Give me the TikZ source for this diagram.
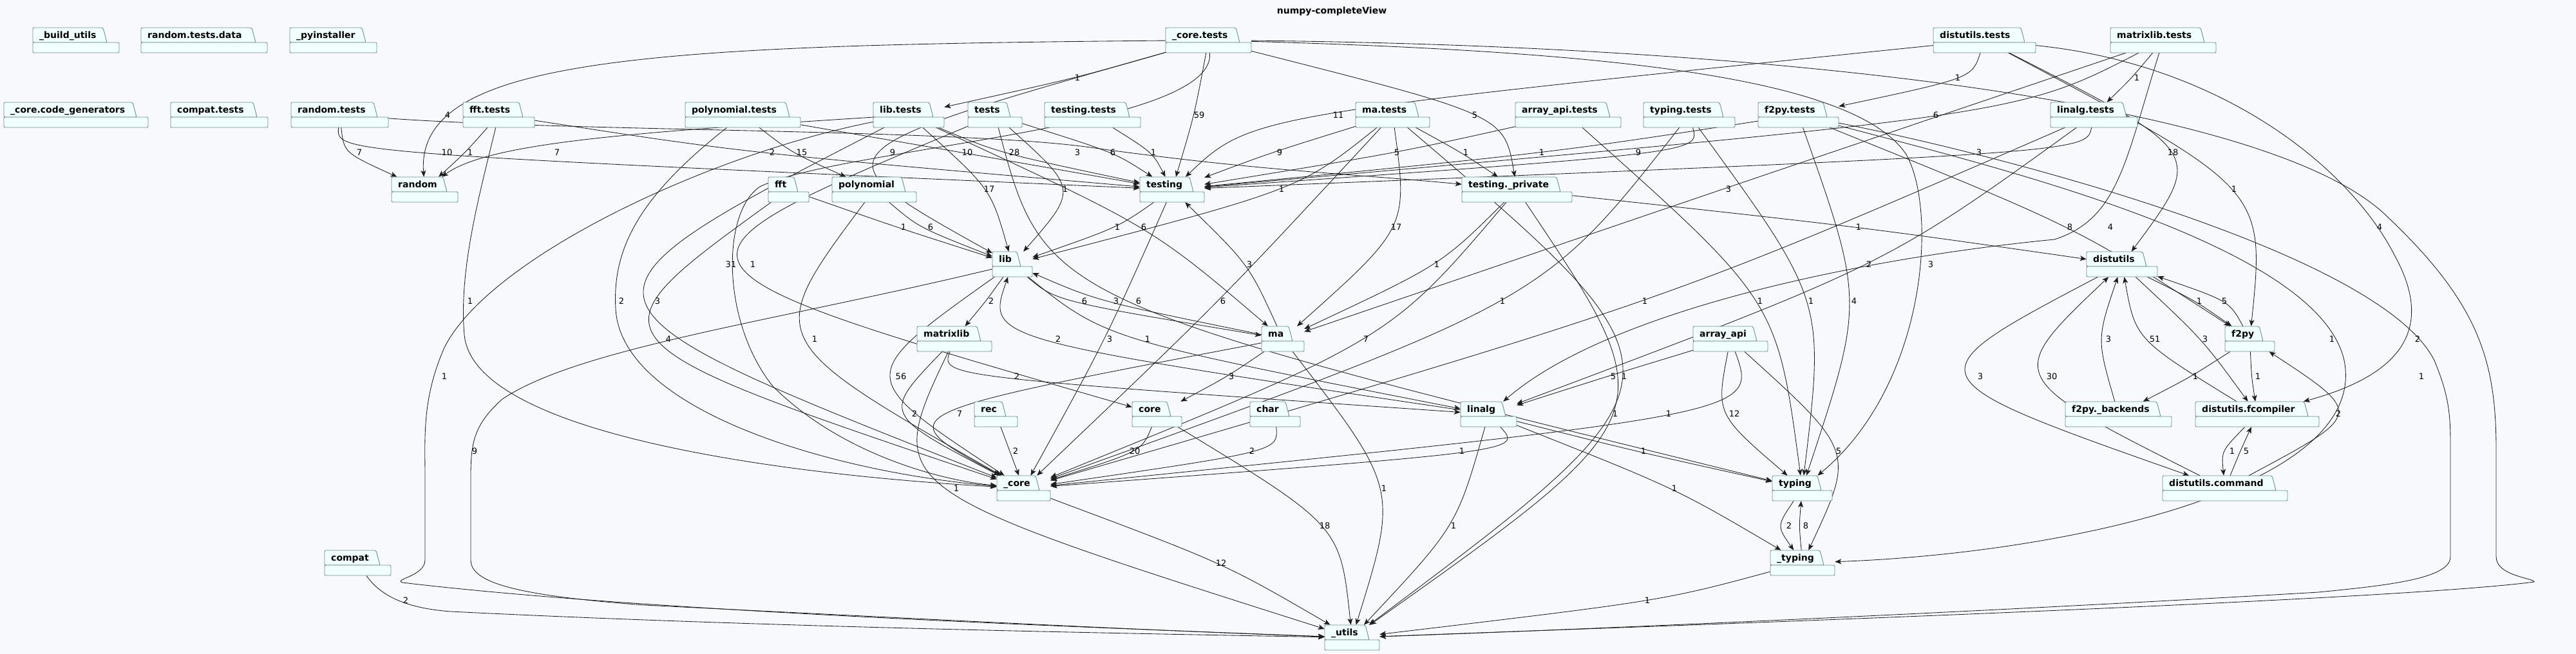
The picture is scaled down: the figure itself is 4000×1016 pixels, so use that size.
\documentclass[tikz,border=0pt]{standalone}
\usepackage{fontspec}
\setmainfont{DejaVu Sans}
\usetikzlibrary{arrows.meta,calc}
\pgfdeclarelayer{edges}
\pgfsetlayers{edges,main}
\definecolor{bgc}{HTML}{F7F9FC}
\definecolor{pkgfill}{HTML}{F1FFFF}
\definecolor{pkgdraw}{HTML}{6F8C8C}
\definecolor{edgec}{HTML}{1E1E1E}
\tikzset{
 pkgshape/.style={draw=pkgdraw, fill=pkgfill, line width=0.9pt, line join=round, rounded corners=2pt},
 pkgtext/.style={font=\fontsize{14}{16}\selectfont\bfseries, inner sep=0pt, anchor=base west},
 pkgbox/.style={inner sep=0pt, draw=none},
 depline/.style={draw=edgec, line width=0.85pt, -{Stealth[length=10pt,width=8pt,inset=2.5pt]}},
 deplabel/.style={font=\fontsize{13}{15}\selectfont, inner sep=0pt, text=black},
}
\newcommand\pkg[6]{%
  \draw[pkgshape] (#3,#6+23) |- (#5-6,#6) -- (#5,#6+23) -- cycle;
  \draw[pkgshape] (#3,#6+23) rectangle (#4,#6+39);
  \node[pkgbox, minimum width={(#4-#3)*1pt}, minimum height=39pt] (#1) at ({(#3+#4)/2},#6+19.5) {};
  \node[pkgtext] (#1-t) at (#3+10,#6+16.5) {#2};
}
% simple edge through a point left of its label
\newcommand\dep[5]{%
  \draw[depline] (#1) .. controls ($1.3333*(#4-9,#5)-0.16667*(#1)-0.16667*(#2)$) .. (#2);
  \node[deplabel] (lab-#1-#2) at (#4,#5) {#3};
}
% edge with an explicit route
\newcommand\depp[6]{%
  \draw[depline] (#1) #6 (#2);
  \node[deplabel] (lab-#1-#2) at (#4,#5) {#3};
}
\begin{document}
\begin{tikzpicture}[x=1pt,y=-1pt]
\useasboundingbox (0,0) rectangle (4000,1016);
\node[font=\fontsize{14}{16}\selectfont\bfseries, inner sep=0pt] (title) at (2068,18) {numpy-completeView};
% packages
\pkg{bu}{\_build\_utils}{51}{185}{166}{43}
\pkg{rtd}{random.tests.data}{219}{415}{397}{43}
\pkg{pyi}{\_pyinstaller}{450}{585}{568}{43}
\pkg{coret}{\_core.tests}{1810}{1943}{1925}{43}
\pkg{distt}{distutils.tests}{3002}{3161}{3144}{43}
\pkg{mlibt}{matrixlib.tests}{3277}{3441}{3423}{43}
\pkg{codegen}{\_core.code\_generators}{6}{230}{212}{159}
\pkg{compatt}{compat.tests}{265}{416}{399}{159}
\pkg{randt}{random.tests}{452}{603}{586}{159}
\pkg{fftt}{fft.tests}{719}{830}{812}{159}
\pkg{polyt}{polynomial.tests}{1064}{1243}{1226}{159}
\pkg{libt}{lib.tests}{1356}{1466}{1449}{159}
\pkg{tests}{tests}{1503}{1587}{1569}{159}
\pkg{testingt}{testing.tests}{1622}{1771}{1754}{159}
\pkg{mat}{ma.tests}{2105}{2220}{2203}{159}
\pkg{aapit}{array\_api.tests}{2353}{2517}{2500}{159}
\pkg{typt}{typing.tests}{2552}{2694}{2676}{159}
\pkg{f2pyt}{f2py.tests}{2730}{2855}{2837}{159}
\pkg{linalgt}{linalg.tests}{3184}{3319}{3302}{159}
\pkg{random}{random}{608}{711}{694}{275}
\pkg{fft}{fft}{1193}{1256}{1239}{275}
\pkg{poly}{polynomial}{1292}{1423}{1406}{275}
\pkg{testing}{testing}{1770}{1870}{1853}{275}
\pkg{tpriv}{testing.\_private}{2270}{2441}{2423}{275}
\pkg{lib}{lib}{1541}{1603}{1585}{391}
\pkg{distutils}{distutils}{3240}{3350}{3333}{391}
\pkg{mlib}{matrixlib}{1424}{1540}{1523}{507}
\pkg{ma}{ma}{1959}{2025}{2007}{507}
\pkg{aapi}{array\_api}{2629}{2745}{2728}{507}
\pkg{f2py}{f2py}{3455}{3532}{3514}{507}
\pkg{rec}{rec}{1513}{1580}{1562}{624}
\pkg{core}{core}{1758}{1835}{1818}{624}
\pkg{char}{char}{1941}{2019}{2002}{624}
\pkg{linalg}{linalg}{2268}{2355}{2338}{624}
\pkg{f2pyb}{f2py.\_backends}{3207}{3372}{3355}{624}
\pkg{fcomp}{distutils.fcompiler}{3409}{3601}{3584}{624}
\pkg{ucore}{\_core}{1548}{1631}{1614}{739}
\pkg{typing}{typing}{2752}{2845}{2828}{739}
\pkg{cmd}{distutils.command}{3358}{3552}{3534}{739}
\pkg{compat}{compat}{504}{607}{590}{855}
\pkg{utyping}{\_typing}{2749}{2849}{2832}{855}
\pkg{uutils}{\_utils}{2057}{2142}{2126}{971}
\begin{pgfonlayer}{edges}
\fill[bgc] (0,0) rectangle (4000,1016);
% R1
\dep{coret}{libt}{1}{1673}{121}
\dep{distt}{f2pyt}{1}{3040}{121}
\dep{mlibt}{linalgt}{1}{3318}{121}
% R2
\depp{coret}{random}{4}{695}{179}{.. controls (1000,70) and (645,90) ..}
\dep{coret}{testing}{59}{1862}{179}
\dep{distt}{testing}{11}{2078}{179}
\dep{coret}{tpriv}{5}{2290}{179}
\dep{mlibt}{testing}{6}{3006}{179}
% R3
\dep{randt}{random}{7}{558}{237}
\dep{randt}{testing}{10}{694}{237}
\dep{fftt}{random}{1}{730}{237}
\depp{libt}{random}{7}{865}{237}{.. controls (1000,205) and (760,220) ..}
\dep{fftt}{testing}{2}{1199}{237}
\dep{polyt}{poly}{15}{1245}{237}
\dep{coret}{lib}{9}{1386}{237}
\dep{polyt}{testing}{10}{1502}{237}
\dep{libt}{testing}{28}{1575}{237}
\depp{randt}{tpriv}{3}{1673}{237}{.. controls (900,205) and (1500,200) .. (1700,230) .. controls (1950,265) and (2100,270) ..}
\dep{tests}{testing}{6}{1728}{237}
\dep{testingt}{testing}{1}{1791}{237}
\dep{mat}{testing}{9}{1987}{237}
\dep{aapit}{testing}{5}{2169}{237}
\dep{mat}{tpriv}{1}{2276}{237}
\dep{f2pyt}{testing}{1}{2394}{237}
\dep{typt}{testing}{9}{2544}{237}
\dep{linalgt}{testing}{3}{3073}{237}
\dep{distt}{distutils}{18}{3374}{237}
% R4
\dep{libt}{lib}{17}{1536}{294}
\dep{tests}{lib}{1}{1654}{294}
\dep{mat}{lib}{1}{1990}{294}
\dep{mlibt}{ma}{3}{2684}{294}
\dep{distt}{f2py}{1}{3469}{294}
% R5
\dep{fft}{lib}{1}{1403}{353}
\dep{poly}{lib}{6}{1445}{353}
\dep{testing}{lib}{1}{1735}{353}
\dep{libt}{ma}{6}{1776}{353}
\dep{mat}{ma}{17}{2168}{353}
\dep{tpriv}{distutils}{1}{2886}{353}
\dep{f2pyt}{f2py}{8}{3214}{353}
\depp{mlibt}{linalg}{4}{3277}{353}{.. controls (3300,250) and (3290,340) .. (3190,372) .. controls (2900,400) and (2500,480) ..}
\depp{distt}{fcomp}{4}{3695}{353}{.. controls (3450,100) and (3650,260) .. (3720,400) .. controls (3790,530) and (3700,590) ..}
% R6
\depp{coret}{ucore}{31}{1135}{411}{.. controls (1890,200) and (1300,230) .. (1180,290) .. controls (1120,330) and (1120,500) .. (1200,600) .. controls (1300,700) and (1450,745) ..}
\dep{tests}{core}{1}{1169}{411}
\dep{ma}{testing}{3}{1940}{411}
\dep{tpriv}{ma}{1}{2231}{411}
\dep{linalgt}{linalg}{2}{2902}{411}
\depp{coret}{typing}{3}{2998}{411}{.. controls (2500,80) and (2880,120) .. (2960,240) .. controls (3010,330) and (2990,600) ..}
% R7
\depp{fftt}{ucore}{1}{730}{468}{.. controls (745,300) and (712,420) .. (721,520) .. controls (735,680) and (1250,740) ..}
\depp{polyt}{ucore}{2}{965}{468}{.. controls (1000,300) and (950,380) .. (956,480) .. controls (965,640) and (1300,735) ..}
\dep{libt}{ucore}{3}{1021}{468}
\dep{lib}{mlib}{2}{1539}{468}
\dep{lib}{ma}{6}{1684}{468}
\dep{ma}{lib}{3}{1733}{468}
\dep{tests}{typing}{6}{1768}{468}
\dep{mat}{ucore}{6}{1899}{468}
\dep{typt}{ucore}{1}{2333}{468}
\dep{linalgt}{ucore}{1}{2554}{468}
\dep{aapit}{typing}{1}{2733}{468}
\dep{typt}{typing}{1}{2812}{468}
\dep{f2pyt}{typing}{4}{2879}{468}
\dep{distutils}{f2py}{1}{3415}{468}
\dep{f2py}{distutils}{5}{3454}{468}
% R8
\dep{fft}{ucore}{4}{1038}{527}
\dep{poly}{ucore}{1}{1265}{527}
\dep{linalg}{lib}{2}{1643}{527}
\dep{testing}{ucore}{3}{1723}{527}
\dep{lib}{linalg}{1}{1782}{527}
\dep{tpriv}{ucore}{7}{2121}{527}
\dep{f2pyb}{distutils}{3}{3274}{527}
\dep{fcomp}{distutils}{51}{3346}{527}
\dep{distutils}{fcomp}{3}{3424}{527}
\depp{f2pyt}{utyping}{1}{3621}{527}{.. controls (3100,260) and (3600,380) .. (3640,560) .. controls (3680,760) and (3200,860) ..}
\depp{coret}{uutils}{2}{3754}{527}{.. controls (2700,70) and (3500,150) .. (3700,330) .. controls (3850,470) and (3876,560) .. (3876,700) -- (3876,865) .. controls (3876,895) and (3935,898) .. (3935,904) .. controls (3700,935) and (2500,975) ..}
% R9
\depp{libt}{uutils}{1}{690}{585}{.. controls (1100,240) and (760,400) .. (690,540) .. controls (655,620) and (660,680) .. (660,740) -- (660,870) .. controls (660,895) and (610,900) .. (625,905) .. controls (1000,950) and (1700,975) ..}
\dep{lib}{ucore}{56}{1399}{585}
\dep{mlib}{linalg}{2}{1579}{585}
\dep{ma}{core}{3}{1912}{585}
\dep{aapi}{linalg}{5}{2505}{585}
\dep{mat}{uutils}{1}{2522}{585}
\dep{distutils}{cmd}{3}{3075}{585}
\dep{cmd}{distutils}{30}{3186}{585}
\dep{f2py}{f2pyb}{1}{3409}{585}
\dep{f2py}{fcomp}{1}{3506}{585}
\depp{f2pyt}{uutils}{1}{3760}{585}{.. controls (3150,250) and (3700,400) .. (3780,560) .. controls (3805,620) and (3805,650) .. (3805,700) -- (3805,865) .. controls (3805,900) and (3700,910) .. (3600,920) .. controls (3000,955) and (2400,980) ..}
% R10
\dep{mlib}{ucore}{2}{1420}{643}
\dep{ma}{ucore}{7}{1490}{643}
\dep{tpriv}{uutils}{1}{2508}{643}
\dep{aapi}{ucore}{1}{2591}{643}
\dep{aapi}{typing}{12}{2693}{643}
\dep{cmd}{f2py}{2}{3631}{643}
% R11
\depp{lib}{uutils}{9}{737}{701}{.. controls (1200,500) and (900,540) .. (780,620) .. controls (735,660) and (731,690) .. (731,740) -- (731,870) .. controls (731,905) and (800,925) .. (1000,940) .. controls (1500,965) and (1800,980) ..}
\dep{rec}{ucore}{2}{1577}{701}
\dep{core}{ucore}{20}{1762}{701}
\dep{char}{ucore}{2}{1944}{701}
\dep{linalg}{ucore}{1}{2270}{701}
\dep{linalg}{typing}{1}{2552}{701}
\dep{aapi}{utyping}{5}{2855}{701}
\dep{fcomp}{cmd}{1}{3466}{701}
\dep{cmd}{fcomp}{5}{3488}{701}
% R12
\dep{mlib}{uutils}{1}{1485}{759}
\dep{ma}{uutils}{1}{2149}{759}
\dep{linalg}{utyping}{1}{2600}{759}
% R13
\dep{core}{uutils}{18}{2057}{817}
\dep{linalg}{uutils}{1}{2257}{817}
\dep{typing}{utyping}{2}{2778}{817}
\dep{utyping}{typing}{8}{2804}{817}
% R14
\dep{ucore}{uutils}{12}{1896}{875}
% R15
\depp{compat}{uutils}{2}{630}{933}{.. controls (590,925) and (630,945) .. (700,950) .. controls (1200,975) and (1800,985) ..}
\dep{utyping}{uutils}{1}{2558}{933}
\end{pgfonlayer}
\end{tikzpicture}
\end{document}
